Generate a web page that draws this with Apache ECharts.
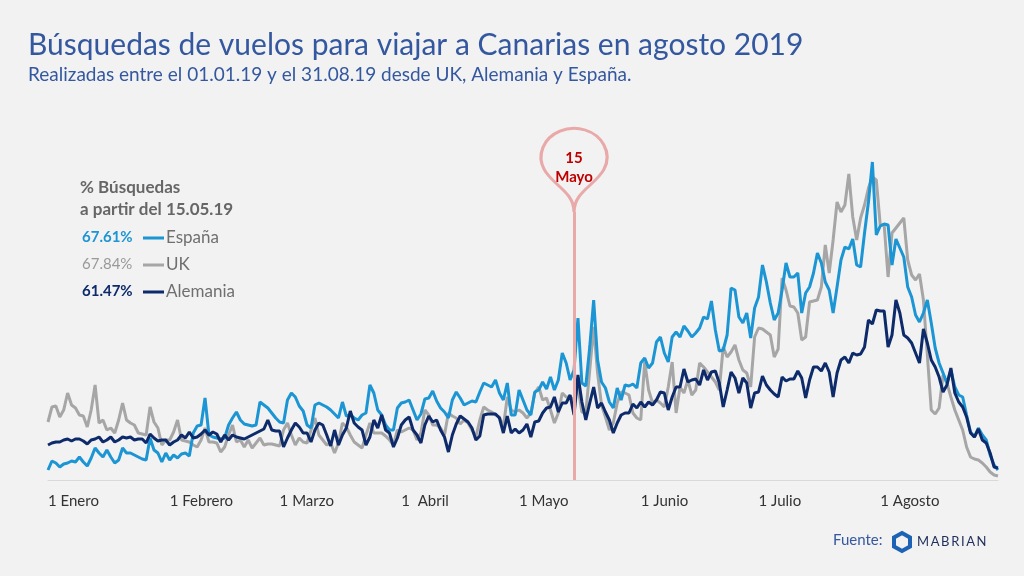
<!DOCTYPE html>
<html><head><meta charset="utf-8">
<script src="https://cdn.jsdelivr.net/npm/echarts@6/dist/echarts.min.js"></script>
<style>html,body{margin:0;padding:0;background:#f2f2f2;}#c{width:1024px;height:576px;}</style>
</head><body><div id="c"></div>
<script>
const monthNames = ['Enero','Febrero','Marzo','Abril','Mayo','Junio','Julio','Agosto'];
const monthDays = [31,28,31,30,31,30,31,31];
const tickLabels = ['1 Enero','1 Febrero','1 Marzo','1  Abril','1 Mayo','1 Junio','1 Julio','1 Agosto'];
const seriesNames = ['España','UK','Alemania'];
const sharePct = ['67.61%','67.84%','61.47%'];
const markerCategory = '15 Mayo';
const markerLabel = '15\nMayo';
const markerTipValue = 268;

const espana = [10,19,17,13,16,17,19,18,23,18, 14,22,32,27,23,30,23,17,20,32, 27,27,25,23,21,20,42,30,27,18,
27,20,25,22,26,27,24,47,54,55, 82,45,43,42,41,42,55,62,68,60, 56,55,54,55,78,75,72,67,62,58,
57,80,87,83,74,69,55,52,75,77, 75,73,70,66,62,78,64,65,62,60, 65,67,95,87,70,65,55,50,50,72,
77,78,80,70,60,66,81,82,89,79, 72,68,62,80,88,82,75,77,79,78, 88,97,95,93,100,87,80,97,65,65,
90,80,70,65,88,90,98,91,103,90, 100,127,117,100,110,162,97,94,133,180, 120,98,92,78,72,92,80,95,94,96,
92,117,122,112,117,138,143,127,118,143, 148,143,154,149,143,147,152,163,161,179, 150,129,130,145,192,190,163,157,167,142,
172,183,215,198,177,160,167,190,217,203, 203,207,167,187,193,207,227,217,198,190, 167,193,220,233,231,241,215,213,247,278,
318,245,254,256,255,215,241,232,223,193, 183,165,158,167,180,157,132,117,107,97, 110,93,85,83,65,48,43,52,45,40,
25,15,10];
const uk = [58,73,74,63,70,87,75,72,65,64, 53,70,95,57,60,50,52,47,60,77, 60,57,55,47,46,45,73,58,52,35,
40,40,48,60,40,39,38,35,33,40, 52,38,38,37,28,33,45,55,38,40, 33,40,32,37,42,35,36,36,35,34,
50,57,45,35,42,38,37,50,62,45, 40,35,37,27,37,57,53,45,38,35, 32,45,57,47,47,47,44,40,35,50,
48,50,52,50,40,47,70,65,55,55, 52,45,67,64,62,56,60,57,50,43, 60,73,70,68,65,63,53,83,70,68,
70,67,62,67,87,93,80,82,70,57, 67,87,83,83,80,93,68,67,110,153, 107,75,63,50,57,77,88,87,85,67,
62,60,118,90,77,80,77,73,93,118, 67,93,87,100,85,90,117,113,108,103, 98,90,133,123,128,135,120,110,107,93,
143,152,151,148,145,123,131,202,190,174, 173,167,140,143,178,179,180,193,235,207, 240,278,268,275,306,263,240,262,275,292,
303,300,255,255,203,247,252,257,262,220, 205,200,206,180,125,70,66,72,105,97, 83,70,60,50,33,23,21,20,17,13,
8,5,4];
const alemania = [35,37,38,38,40,41,39,41,41,39, 36,40,41,43,38,40,43,38,40,43, 42,43,40,41,41,37,46,42,39,40,
40,35,38,40,45,42,48,42,43,46, 50,45,48,46,38,45,40,45,43,42, 41,43,45,47,49,51,60,50,49,49,
33,42,50,57,53,47,47,38,50,57, 55,45,34,50,35,45,52,69,57,53, 50,35,43,60,52,65,50,47,33,42,
55,60,63,50,45,37,55,64,58,60, 50,43,28,45,56,64,61,58,52,40, 44,65,66,66,66,62,47,64,47,51,
47,50,56,43,58,59,67,72,73,83, 68,77,77,85,65,105,78,60,77,93, 72,77,68,60,47,57,65,67,67,76,
72,78,73,78,75,80,88,87,70,83, 93,93,111,98,100,101,95,110,100,108, 109,97,73,90,108,102,87,102,97,72,
87,88,104,95,90,86,83,103,99,101, 101,109,102,82,100,113,113,109,117,108, 83,107,120,123,117,127,125,126,133,160,
156,170,169,169,133,145,180,167,145,142, 137,127,117,151,137,120,113,103,88,95, 112,87,78,73,63,47,43,51,40,37,
27,13,12];

const categories = [];
monthNames.forEach((m, i) => { for (let d = 1; d <= monthDays[i]; d++) categories.push(d + ' ' + m); });

const cBlue = '#1b95d3', cGray = '#a6a6a6', cNavy = '#0d2a6b', cTitle = '#34589f', cPin = '#e9a9a9';
const FF = 'Lato';

const chart = echarts.init(document.getElementById('c'), null, {renderer: 'canvas'});
chart.setOption({
  backgroundColor: '#f2f2f2',
  animation: false,
  title: {
    text: 'Búsquedas de vuelos para viajar a Canarias en agosto 2019',
    subtext: 'Realizadas entre el 01.01.19 y el 31.08.19 desde UK, Alemania y España.',
    left: 23, top: 25, itemGap: 5,
    textStyle: {fontFamily: FF, fontSize: 30, fontWeight: 'normal', color: cTitle},
    subtextStyle: {fontFamily: FF, fontSize: 19, color: cTitle}
  },
  grid: {left: 48, right: 26, top: 130, bottom: 96},
  legend: {
    orient: 'vertical', left: 143, top: 228, itemGap: 7, padding: 0,
    itemWidth: 21, itemHeight: 3, icon: 'rect',
    data: seriesNames,
    textStyle: {fontFamily: FF, fontSize: 17, color: '#6f6f6f', padding: [0, 0, 0, -3], lineHeight: 20}
  },
  xAxis: {
    type: 'category', data: categories, boundaryGap: false,
    axisLine: {lineStyle: {color: '#d9d9d9', width: 1}},
    axisTick: {show: false},
    axisLabel: {
      interval: (i, v) => v.startsWith('1 '),
      formatter: v => v.startsWith('1 ') ? tickLabels[monthNames.indexOf(v.slice(2))] : '',
      align: 'left', margin: 14, color: '#333', fontSize: 15, fontFamily: FF
    }
  },
  yAxis: {type: 'value', min: 0, max: 350, show: false, splitLine: {show: false}},
  series: [
    {name: 'UK', type: 'line', data: uk, showSymbol: false, lineStyle: {width: 3, color: cGray}, itemStyle: {color: cGray}, z: 2},
    {name: 'España', type: 'line', data: espana, showSymbol: false, lineStyle: {width: 3, color: cBlue}, itemStyle: {color: cBlue}, z: 3},
    {name: 'Alemania', type: 'line', data: alemania, showSymbol: false, lineStyle: {width: 3, color: cNavy}, itemStyle: {color: cNavy}, z: 4,
      markLine: {
        silent: true, symbol: ['none', 'none'], label: {show: false},
        lineStyle: {color: cPin, width: 3, type: 'solid'},
        data: [[{coord: [markerCategory, 0]}, {coord: [markerCategory, markerTipValue]}]]
      },
      markPoint: {
        silent: true,
        data: [{coord: [markerCategory, markerTipValue], symbol: 'pin', symbolSize: [110, 96],
          itemStyle: {color: '#f2f2f2', borderColor: cPin, borderWidth: 3},
          label: {show: true, formatter: markerLabel, color: '#c00000', fontWeight: 'bold', fontSize: 15, lineHeight: 19, fontFamily: FF, offset: [0, 6]}}]
      }
    }
  ],
  graphic: [
    {type: 'text', left: 80, top: 177, style: {text: '% Búsquedas\na partir del 15.05.19', font: 'bold 17px Lato', fill: '#666', lineHeight: 22}},
    {type: 'text', left: 82, top: 230, style: {text: sharePct[0], font: 'bold 15px Lato', fill: cBlue}},
    {type: 'text', left: 82, top: 257, style: {text: sharePct[1], font: '15px Lato', fill: '#999'}},
    {type: 'text', left: 82, top: 284, style: {text: sharePct[2], font: 'bold 15px Lato', fill: cNavy}},
    {type: 'text', left: 833, top: 533, style: {text: 'Fuente:', font: '15px Lato', fill: cTitle}},
    {type: 'polygon', shape: {points: [[902,533],[910,537.5],[910,546.5],[902,551],[894,546.5],[894,537.5]]}, style: {fill: 'none', stroke: '#1d63b5', lineWidth: 4}},
    {type: 'text', left: 917, top: 535, style: {text: 'M\u2009A\u2009B\u2009R\u2009I\u2009A\u2009N', font: '13px Lato', fill: '#1f2d5c'}}
  ]
});
</script></body></html>
